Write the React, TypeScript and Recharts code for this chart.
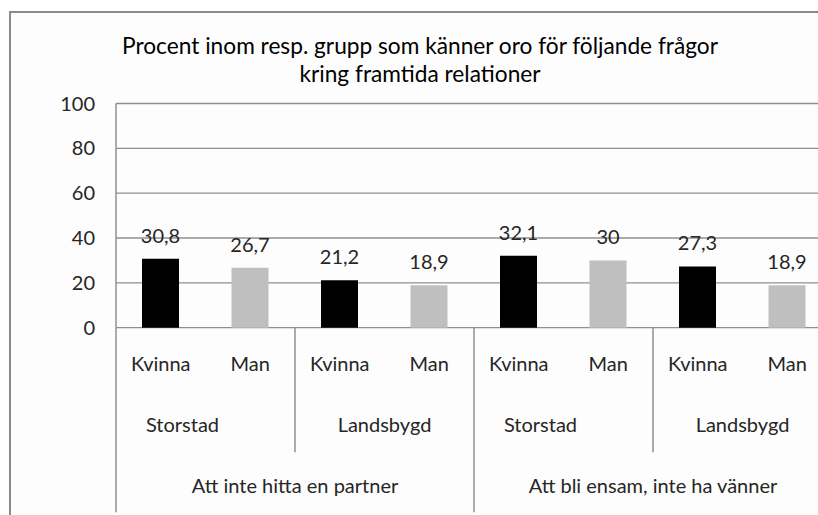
import React from "react";
import { BarChart, Bar, XAxis, YAxis, CartesianGrid, Cell, LabelList } from "recharts";

const genders = ["Kvinna", "Man", "Kvinna", "Man", "Kvinna", "Man", "Kvinna", "Man"];
const areas = ["Storstad", "Storstad", "Landsbygd", "Landsbygd", "Storstad", "Storstad", "Landsbygd", "Landsbygd"];
const concerns = [
  "Att inte hitta en partner",
  "Att inte hitta en partner",
  "Att inte hitta en partner",
  "Att inte hitta en partner",
  "Att bli ensam, inte ha vänner",
  "Att bli ensam, inte ha vänner",
  "Att bli ensam, inte ha vänner",
  "Att bli ensam, inte ha vänner",
];
const values = [30.8, 26.7, 21.2, 18.9, 32.1, 30, 27.3, 18.9];
const yTicks = [0, 20, 40, 60, 80, 100];
const titleLines = [
  "Procent inom resp. grupp som känner oro för följande frågor",
  "kring framtida relationer",
];

const colorFor = (g: string) => (g === "Kvinna" ? "#000000" : "#bfbfbf");

const data = genders.map((g, i) => ({
  key: String(i),
  gender: g,
  area: areas[i],
  concern: concerns[i],
  value: values[i],
}));

const FONT = 'Lato, "Open Sans", sans-serif';
const TEXT = "#262626";
const LINE = "#8f8f8f";
const FS = 20;

const MultiTick = (props: any) => {
  const { x, y, payload } = props;
  const i: number = payload.index ?? Number(payload.value);
  const half: number = payload.offset ?? 44.75;
  const d = data[i];
  const left = x - half;
  const out: React.ReactNode[] = [];
  out.push(
    <text key="g" x={x} y={y + 43} textAnchor="middle" fontSize={FS} fontFamily={FONT} fill={TEXT}>
      {d.gender}
    </text>
  );
  if (i % 2 === 0) {
    const shift = d.area === "Storstad" ? -23 : 0;
    out.push(
      <text key="a" x={left + 2 * half + shift} y={y + 104.5} textAnchor="middle" fontSize={FS} fontFamily={FONT} fill={TEXT}>
        {d.area}
      </text>
    );
    const long = i % 4 === 0;
    out.push(
      <line key="d" x1={left} x2={left} y1={y} y2={y + (long ? 184.5 : 124.5)} stroke={LINE} strokeWidth={1.5} />
    );
  }
  if (i % 4 === 0) {
    out.push(
      <text key="c" x={left + 4 * half} y={y + 165.5} textAnchor="middle" fontSize={FS} fontFamily={FONT} fill={TEXT}>
        {d.concern}
      </text>
    );
  }
  if (i === data.length - 1) {
    out.push(
      <line key="e" x1={x + half} x2={x + half} y1={y} y2={y + 184.5} stroke={LINE} strokeWidth={1.5} />
    );
  }
  return <g>{out}</g>;
};

const fmt = (v: any) => String(v).replace(".", ",");

export default function App() {
  return (
    <div style={{ position: "fixed", left: 0, top: 0, width: 818, height: 515, overflow: "hidden", background: "#ffffff" }}>
      <div
        style={{
          position: "absolute",
          left: 9,
          top: 11,
          width: 1000,
          height: 520,
          borderLeft: "2px solid #8a8a8a",
          borderTop: "2px solid #8a8a8a",
          background: "#fdfdfd",
          boxSizing: "border-box",
        }}
      />
      <svg width={818} height={100} style={{ position: "absolute", left: 0, top: 0 }}>
        {titleLines.map((t, k) => (
          <text key={k} x={420} y={54.3 + k * 27.7} textAnchor="middle" fontSize={22.7} fontFamily={FONT} fill="#000">
            {t}
          </text>
        ))}
      </svg>
      <div style={{ position: "absolute", left: 0, top: 0 }}>
        <BarChart
          width={860}
          height={515}
          data={data}
          margin={{ top: 103.5, right: 28, bottom: 0, left: 0 }}
        >
          <CartesianGrid vertical={false} stroke={LINE} strokeWidth={1.3} />
          <YAxis
            domain={[0, 100]}
            ticks={yTicks}
            width={116}
            tickLine={false}
            tickSize={0}
            tickMargin={21}
            axisLine={{ stroke: LINE, strokeWidth: 1.5 }}
            tick={{ fontSize: FS, fontFamily: FONT, fill: TEXT }}
            interval={0}
          />
          <XAxis
            dataKey="key"
            height={187.3}
            interval={0}
            tickLine={false}
            axisLine={false}
            tickSize={0}
            tickMargin={0}
            tick={<MultiTick />}
          />
          <Bar dataKey="value" barSize={37} isAnimationActive={false}>
            {data.map((d, i) => (
              <Cell key={i} fill={colorFor(d.gender)} />
            ))}
            <LabelList
              dataKey="value"
              position="top"
              offset={16}
              formatter={fmt}
              style={{ fontSize: FS, fontFamily: FONT, fill: TEXT }}
            />
          </Bar>
        </BarChart>
      </div>
    </div>
  );
}
